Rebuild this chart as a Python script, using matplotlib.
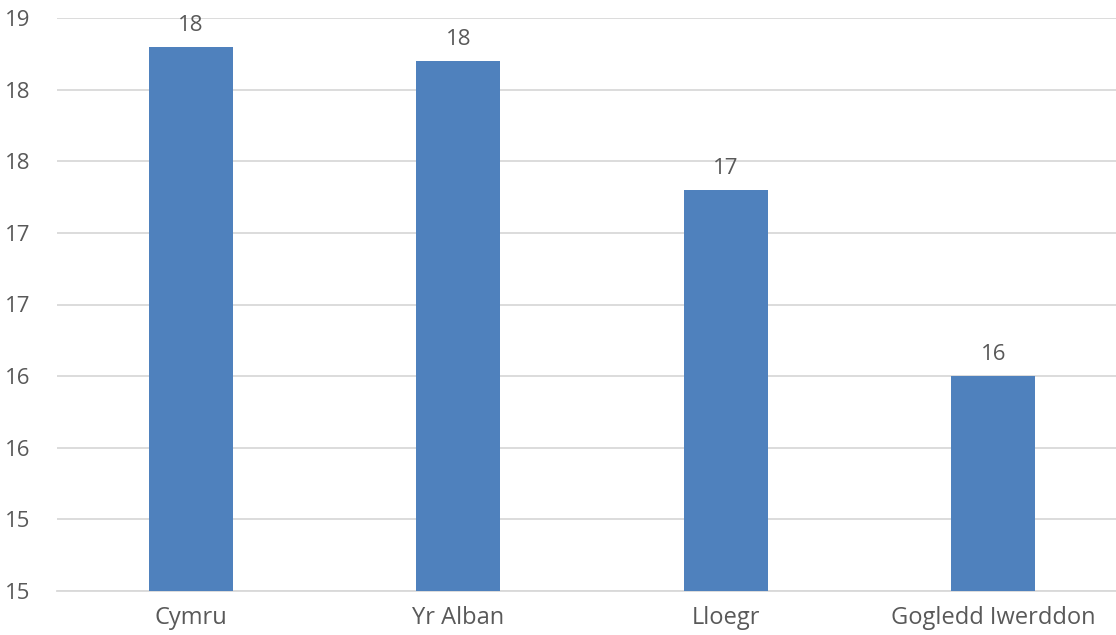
import numpy as np
import matplotlib
matplotlib.use('Agg')
import matplotlib.pyplot as plt

# data
categories = ['Cymru', 'Yr Alban', 'Lloegr', 'Gogledd Iwerddon']
values = [18.32, 18.23, 17.42, 16.25]
value_labels = ['18', '18', '17', '16']
y_ticks = [14.9, 15.35, 15.8, 16.25, 16.7, 17.15, 17.6, 18.05, 18.5]
y_tick_labels = ['15', '15', '16', '16', '17', '17', '18', '18', '19']

plt.rcParams['font.family'] = ['Open Sans', 'DejaVu Sans']
text_col = '#595959'
grid_col = '#d9d9d9'

fig = plt.figure(figsize=(11.16, 6.35), dpi=100)
ax = fig.add_axes([57 / 1116, 44 / 635, 1070 / 1116, 573 / 635])

x = np.arange(len(categories))
ax.bar(x, values, width=0.314, color='#4f81bd', zorder=3)

for xi, v, lab in zip(x, values, value_labels):
    ax.annotate(lab, (xi, v), xytext=(0, 8), textcoords='offset points',
                ha='center', va='bottom', fontsize=16, color=text_col)

ax.set_xlim(-0.5, len(categories) - 0.5)
ax.set_ylim(y_ticks[0], y_ticks[-1])
ax.set_yticks(y_ticks)
ax.set_yticklabels(y_tick_labels)
ax.set_xticks(x)
ax.set_xticklabels(categories)
ax.tick_params(axis='both', length=0, labelsize=16, labelcolor=text_col)
ax.tick_params(axis='x', labelsize=17, pad=11)
ax.tick_params(axis='y', pad=19)

ax.yaxis.grid(True, color=grid_col, linewidth=1.3, zorder=0)
for s in ['top', 'right', 'left']:
    ax.spines[s].set_visible(False)
ax.spines['bottom'].set_color(grid_col)
ax.spines['bottom'].set_linewidth(1.3)

plt.savefig('out.png', dpi=100)
